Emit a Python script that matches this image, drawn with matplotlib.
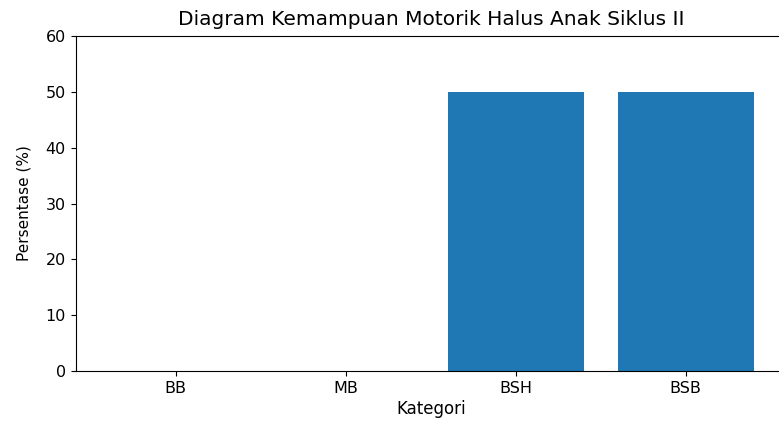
import matplotlib
matplotlib.use("Agg")
import matplotlib.pyplot as plt

categories = ["BB", "MB", "BSH", "BSB"]
values = [0, 0, 50, 50]

fig = plt.figure(figsize=(7.79, 4.21), dpi=100)
ax = fig.add_axes([75.5/779, 50/421, (786-75.5)/779, 335/421])
ax.bar(categories, values, color="#1f77b4", width=0.8)
ax.set_ylim(0, 60)
ax.set_title("Diagram Kemampuan Motorik Halus Anak Siklus II", fontsize=14.5, pad=8)
ax.set_xlabel("Kategori", fontsize=12, labelpad=3)
ax.set_ylabel("Persentase (%)", fontsize=11, labelpad=10)
ax.tick_params(labelsize=11.5)
fig.savefig("out.png", dpi=100)
